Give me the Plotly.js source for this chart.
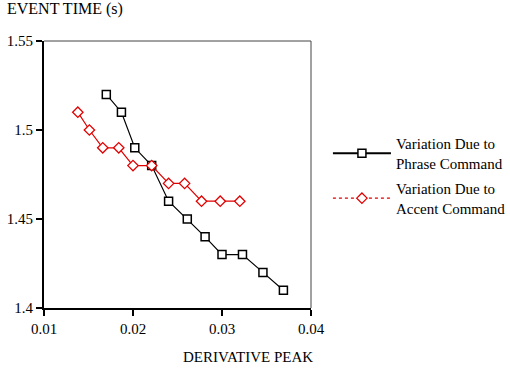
<!DOCTYPE html>
<html><head><meta charset="utf-8">
<script src="https://cdn.plot.ly/plotly-3.0.1.min.js"></script>
<style>html,body{margin:0;padding:0;background:#fff}#chart{width:510px;height:369px}</style>
</head><body><div id="chart"></div>
<script>
const phraseX = [0.0170, 0.0187, 0.0202, 0.0221, 0.0240, 0.0261, 0.0281, 0.0300, 0.0323, 0.0346, 0.0369];
const phraseY = [1.52, 1.51, 1.49, 1.48, 1.46, 1.45, 1.44, 1.43, 1.43, 1.42, 1.41];
const accentX = [0.0138, 0.0151, 0.0166, 0.0184, 0.0200, 0.0221, 0.0240, 0.0258, 0.0277, 0.0298, 0.0320];
const accentY = [1.51, 1.50, 1.49, 1.49, 1.48, 1.48, 1.47, 1.47, 1.46, 1.46, 1.46];
const xTicks = [0.01, 0.02, 0.03, 0.04];
const xTickText = ["0.01", "0.02", "0.03", "0.04"];
const yTicks = [1.4, 1.45, 1.5, 1.55];
const yTickText = ["1.4", "1.45", "1.5", "1.55"];
const names = ["Variation Due to<br>Phrase Command", "Variation Due to<br>Accent Command"];

const FONT = "'Liberation Serif', 'Times New Roman', Times, serif";
const sq = {symbol: "square", size: 8, color: "#fff", line: {color: "#000", width: 1.5}};
const dm = {symbol: "diamond", size: 8, color: "#fff", line: {color: "#e00000", width: 1.3}};

const data = [
  {x: phraseX, y: phraseY, mode: "lines+markers", line: {color: "#000", width: 1.2}, marker: sq, showlegend: false},
  {x: accentX, y: accentY, mode: "lines+markers", line: {color: "#e00000", width: 1.2}, marker: dm, showlegend: false},
  {x: [null], y: [null], name: names[0], mode: "lines+markers", line: {color: "#000", width: 2}, marker: sq, legend: "legend"},
  {x: [null], y: [null], name: names[1], mode: "lines+markers", line: {color: "#e00000", width: 1.2, dash: "dot"}, marker: dm, legend: "legend2"}
];

const legBase = {xref: "container", yref: "container", x: 0.643, xanchor: "left", yanchor: "middle",
                 font: {size: 15, family: FONT}, itemwidth: 58, bgcolor: "rgba(0,0,0,0)"};

const layout = {
  width: 510, height: 369,
  margin: {l: 44, r: 199, t: 41, b: 61},
  paper_bgcolor: "#fff", plot_bgcolor: "#fff",
  font: {family: FONT, size: 15, color: "#000"},
  xaxis: {range: [0.01, 0.04], tickvals: xTicks, ticktext: xTickText, showgrid: false, zeroline: false,
          showline: true, linecolor: "#000", linewidth: 2, ticks: "outside", ticklen: 6, tickwidth: 2, tickcolor: "#000",
          tickfont: {size: 15, family: FONT}},
  yaxis: {range: [1.4, 1.55], tickvals: yTicks, ticktext: yTickText, showgrid: false, zeroline: false,
          showline: true, linecolor: "#000", linewidth: 2, ticks: "outside", ticklen: 6, tickwidth: 2, tickcolor: "#000",
          tickfont: {size: 15, family: FONT}},
  shapes: [
    {type: "line", xref: "paper", yref: "paper", x0: 0, x1: 1, y0: 1, y1: 1, line: {color: "#444", width: 1}},
    {type: "line", xref: "paper", yref: "paper", x0: 1, x1: 1, y0: 0, y1: 1, line: {color: "#444", width: 1}}
  ],
  annotations: [
    {text: "EVENT TIME (s)", xref: "paper", yref: "paper", x: -0.145, y: 1.12, xanchor: "left", yanchor: "middle", showarrow: false, font: {size: 16, family: FONT}},
    {text: "DERIVATIVE PEAK", xref: "paper", yref: "paper", x: 0.765, y: -0.185, xanchor: "center", yanchor: "middle", showarrow: false, font: {size: 15, family: FONT}}
  ],
  legend: Object.assign({}, legBase, {y: 0.585}),
  legend2: Object.assign({}, legBase, {y: 0.463})
};
Plotly.newPlot("chart", data, layout, {displayModeBar: false, staticPlot: true});
</script></body></html>
